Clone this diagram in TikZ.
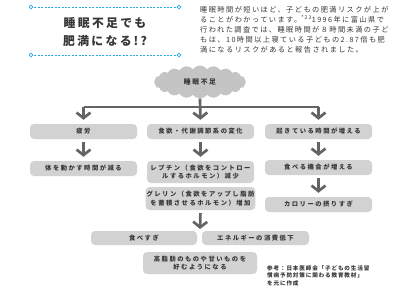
\documentclass[tikz,border=0pt]{standalone}
\usepackage{fontspec}
\usetikzlibrary{shapes.symbols,arrows.meta}
\newfontfamily\jptitle{Noto Sans CJK JP}[LetterSpace=20]
\newfontfamily\jppara{Noto Sans CJK JP}[LetterSpace=20]
\newfontfamily\jpbox{Noto Sans CJK JP}[LetterSpace=24]
\newfontfamily\jpref{Noto Sans CJK JP}[LetterSpace=15]
\definecolor{boxgray}{RGB}{210,210,210}
\definecolor{cloudgray}{RGB}{196,196,196}
\definecolor{arrgray}{RGB}{100,100,100}
\definecolor{txtgray}{RGB}{55,55,55}
\definecolor{titlecyan}{RGB}{41,171,226}
\begin{document}
\begin{tikzpicture}[x=1pt,y=-1pt,
  flowbox/.style={rounded corners=4pt,fill=boxgray,text=txtgray,minimum width=107pt,
    minimum height=15pt,inner sep=1pt,align=center,
    font=\jpbox\bfseries\fontsize{6.3}{8.5}\selectfont},
  arr/.style={draw=arrgray,line width=2.7pt,
    -{Straight Barb[length=5.5pt,width=14pt,line width=2.7pt]}},
  plain/.style={draw=arrgray,line width=2.7pt},
  tline/.style={draw=titlecyan,line width=0.8pt,dash pattern=on 2pt off 1.4pt},
  tdot/.style={circle,draw=titlecyan,fill=white,line width=0.7pt,inner sep=0pt,minimum size=3.6pt}
]
\useasboundingbox (0,0) rectangle (400,300);
\fill[white] (0,0) rectangle (400,300);

% title
\coordinate (t1l) at (31,7); \coordinate (t1r) at (179,7);
\coordinate (t2l) at (31,55); \coordinate (t2r) at (179,55);
\draw[tline] (t1l) -- (t1r);
\draw[tline] (t2l) -- (t2r);
\node[tdot] at (t1l) {}; \node[tdot] at (t1r) {};
\node[tdot] at (t2l) {}; \node[tdot] at (t2r) {};
\node[text=txtgray,align=center,font=\jptitle\bfseries\fontsize{11.8}{18}\selectfont] (title) at (105,32)
  {睡眠不足でも\\肥満になる\,!?};

% paragraph
\node[anchor=north west,inner sep=0pt,align=left,text=txtgray,
  font=\jppara\fontsize{7.2}{10}\selectfont] (para) at (200,6.5)
  {睡眠時間が短いほど、子どもの肥満リスクが上が\\
   ることがわかっています。\textsuperscript{*23}1996年に富山県で\\
   行われた調査では、睡眠時間が８時間未満の子ど\\
   もは、10時間以上寝ている子どもの2.87倍も肥\\
   満になるリスクがあると報告されました。};

% cloud
\node[cloud,cloud puffs=20,cloud puff arc=110,aspect=2.9,fill=cloudgray,
  minimum width=92pt,minimum height=33pt,inner sep=0pt,text=txtgray,
  font=\jpbox\bfseries\fontsize{6.8}{8}\selectfont] (cl) at (200,82) {睡眠不足};

% boxes
\node[flowbox] (b1) at (83.5,131.5) {疲労};
\node[flowbox] (b2) at (200.5,131.5) {食欲・代謝調節系の変化};
\node[flowbox] (b3) at (318.5,131.5) {起きている時間が増える};
\node[flowbox] (c1) at (83.5,168.5) {体を動かす時間が減る};
\node[flowbox,minimum height=22pt] (c2) at (200.5,172) {レプチン（食欲をコントロー\\ルするホルモン）減少};
\node[flowbox] (c3) at (318.5,167.5) {食べる機会が増える};
\node[flowbox,minimum height=23pt] (d2) at (200.5,198.5) {グレリン（食欲をアップし脂肪\\を蓄積させるホルモン）増加};
\node[flowbox] (d3) at (318.5,204.5) {カロリーの摂りすぎ};
\node[flowbox,minimum width=106pt,minimum height=14pt] (e1) at (144,238) {食べすぎ};
\node[flowbox,minimum width=107pt,minimum height=14pt] (e2) at (255.5,238) {エネルギーの消費低下};
\node[flowbox,minimum width=114pt,minimum height=22pt] (f) at (200,263) {高脂肪のものや甘いものを\\好むようになる};

% reference
\node[anchor=north west,inner sep=0pt,align=left,text=txtgray,
  font=\jpref\bfseries\fontsize{5.6}{7.6}\selectfont] (ref) at (267,265)
  {参考：日本医師会「子どもの生活習\\慣病予防対策に関わる教育教材」\\を元に作成};

% connectors
\coordinate (j) at (200,107);
\coordinate (m) at (200,229);
\draw[arr,shorten >=4pt] (cl.south) -- (b2.north);
\draw[plain] (b1.north |- j) -- (b3.north |- j);
\draw[arr,shorten >=4pt] (b1.north |- j) -- (b1.north);
\draw[arr,shorten >=4pt] (b3.north |- j) -- (b3.north);
\draw[arr,shorten <=3pt,shorten >=4pt] (b1.south) -- (c1.north);
\draw[arr,shorten <=3pt,shorten >=4pt] (b2.south) -- (c2.north);
\draw[arr,shorten <=3pt,shorten >=4pt] (b3.south) -- (c3.north);
\draw[arr,shorten <=3pt,shorten >=4pt] (c3.south) -- (d3.north);
\draw[arr,shorten <=3pt] (d2.south) -- (m);
\end{tikzpicture}
\end{document}
